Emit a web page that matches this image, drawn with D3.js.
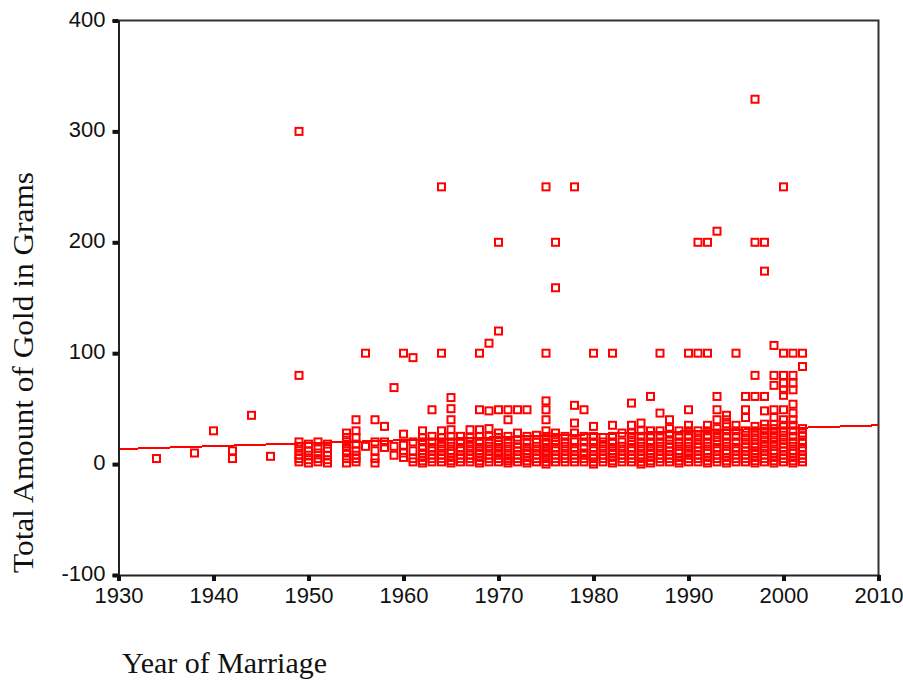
<!DOCTYPE html>
<html>
<head>
<meta charset="utf-8">
<script src="https://cdn.jsdelivr.net/npm/d3@7"></script>
<style>
  html, body { margin: 0; padding: 0; background: #fff; }
  svg { display: block; }
  .tick text { font-family: "Liberation Sans", Arial, sans-serif; font-size: 22px; fill: #111; }
  .title { font-family: "Liberation Serif", "Times New Roman", serif; font-size: 29px; fill: #111; }
</style>
</head>
<body>
<svg id="chart" width="903" height="685"></svg>
<script>
// Gold received at marriage, by year of marriage: [year, [grams for each respondent]]
const gold1930s = [[1934, [5]], [1938, [10]]];
const gold1940s = [
  [1940, [30]], [1942, [12, 5]], [1944, [44]], [1946, [7]],
  [1949, [300, 80, 20, 16, 12, 8, 5, 2]]
];
const gold1950s = [
  [1950, [18, 12, 8, 4, 1]], [1951, [20, 14, 10, 5, 2]], [1952, [18, 14, 8, 4, 1]],
  [1954, [28, 24, 20, 15, 12, 10, 5, 1]], [1955, [40, 30, 24, 18, 12, 8, 5, 2]],
  [1956, [100, 16]], [1957, [40, 20, 12, 5, 1]], [1958, [34, 20, 15]], [1959, [69, 16, 8]]
];
const gold1960s = [
  [1960, [100, 27, 17, 10, 6]], [1961, [96, 20, 12, 5, 2]],
  [1962, [30, 24, 20, 15, 10, 6, 3, 1]], [1963, [49, 25, 20, 15, 12, 8, 5, 2]],
  [1964, [250, 100, 30, 24, 20, 16, 12, 8, 5, 2]],
  [1965, [60, 50, 40, 31, 25, 20, 16, 12, 10, 6, 3, 1]],
  [1966, [25, 20, 15, 12, 8, 5, 2]], [1967, [31, 24, 20, 16, 12, 8, 5, 2]],
  [1968, [100, 49, 31, 25, 20, 15, 12, 10, 6, 3, 1]],
  [1969, [109, 48, 32, 25, 20, 16, 12, 8, 5, 2]]
];
const gold1970s = [
  [1970, [200, 120, 49, 28, 24, 20, 15, 12, 10, 8, 5, 2]],
  [1971, [49, 40, 25, 20, 16, 12, 8, 5, 3, 1]],
  [1972, [49, 28, 22, 18, 15, 12, 8, 5, 2]],
  [1973, [49, 25, 20, 15, 12, 10, 6, 3, 1]],
  [1974, [26, 20, 16, 12, 8, 5, 2]],
  [1975, [250, 100, 57, 49, 40, 30, 25, 20, 18, 15, 12, 10, 8, 5, 2, 0]],
  [1976, [200, 159, 28, 24, 20, 15, 12, 8, 5, 2]],
  [1977, [25, 20, 16, 12, 8, 5, 2]],
  [1978, [250, 53, 37, 28, 20, 15, 12, 8, 5, 2]],
  [1979, [49, 25, 20, 15, 10, 8, 5, 2]]
];
const gold1980s = [
  [1980, [100, 34, 25, 20, 15, 12, 8, 5, 2, 0]],
  [1981, [24, 20, 16, 12, 8, 5, 2]],
  [1982, [100, 35, 25, 20, 15, 12, 10, 6, 3, 1]],
  [1983, [28, 20, 16, 12, 8, 5, 2]],
  [1984, [55, 35, 28, 24, 20, 15, 12, 8, 5, 2]],
  [1985, [37, 30, 25, 20, 16, 12, 8, 5, 2, 0]],
  [1986, [61, 30, 25, 20, 15, 12, 10, 6, 3, 1]],
  [1987, [100, 46, 30, 25, 20, 16, 12, 8, 5, 2]],
  [1988, [40, 32, 27, 22, 18, 15, 12, 8, 5, 2]],
  [1989, [30, 25, 20, 16, 12, 10, 6, 3, 1]]
];
const gold1990s = [
  [1990, [100, 49, 35, 30, 25, 20, 16, 12, 10, 8, 5, 2]],
  [1991, [200, 100, 30, 26, 22, 18, 15, 12, 8, 5, 2]],
  [1992, [200, 100, 35, 30, 25, 20, 16, 12, 10, 6, 3, 1]],
  [1993, [210, 61, 49, 40, 32, 28, 24, 20, 15, 12, 8, 5, 2]],
  [1994, [44, 40, 36, 30, 25, 20, 16, 12, 10, 6, 3, 1]],
  [1995, [100, 35, 30, 25, 20, 15, 12, 8, 5, 2]],
  [1996, [61, 49, 42, 30, 26, 22, 18, 15, 12, 8, 5, 2]],
  [1997, [329, 200, 80, 61, 34, 30, 26, 22, 18, 15, 12, 10, 6, 3, 1]],
  [1998, [200, 174, 61, 48, 36, 32, 28, 24, 20, 16, 12, 8, 5, 2]],
  [1999, [107, 80, 71, 49, 42, 36, 32, 28, 24, 20, 16, 12, 10, 6, 3, 1]]
];
const gold2000s = [
  [2000, [250, 100, 80, 73, 67, 62, 49, 40, 35, 30, 26, 22, 18, 15, 12, 8, 5, 2]],
  [2001, [100, 80, 73, 67, 54, 46, 40, 35, 30, 25, 20, 16, 12, 10, 6, 3, 1]],
  [2002, [100, 88, 32, 28, 25, 20, 15, 12, 8, 5, 2]]
];

// Fitted linear trend (grams at the ends of the year range)
const trendYears = [1930, 2010];
const trendGrams = [13.5, 35];

const xTicks = [1930, 1940, 1950, 1960, 1970, 1980, 1990, 2000, 2010];
const yTicks = [-100, 0, 100, 200, 300, 400];

const points = [];
[gold1930s, gold1940s, gold1950s, gold1960s, gold1970s, gold1980s, gold1990s, gold2000s]
  .forEach(decade => decade.forEach(([year, grams]) =>
    grams.forEach(g => points.push({ year, grams: g }))));

const svg = d3.select("#chart");
const x = d3.scaleLinear().domain([1930, 2010]).range([118.5, 878.5]);
const y = d3.scaleLinear().domain([-100, 400]).range([575, 20.5]);

// frame: top and right edges
svg.append("path")
  .attr("d", `M${x(1930)},${y(400)}H${x(2010)}V${y(-100)}`)
  .attr("fill", "none").attr("stroke", "#333").attr("stroke-width", 2);

// regression line
svg.append("line")
  .attr("x1", x(trendYears[0])).attr("y1", y(trendGrams[0]))
  .attr("x2", x(trendYears[1])).attr("y2", y(trendGrams[1]))
  .attr("stroke", "#ff0000").attr("stroke-width", 2)
  .attr("shape-rendering", "crispEdges");

// open square markers
const s = 7;
svg.append("g").selectAll("rect").data(points).join("rect")
  .attr("x", d => x(d.year) - s / 2)
  .attr("y", d => y(d.grams) - s / 2)
  .attr("width", s).attr("height", s)
  .attr("fill", "none").attr("stroke", "#ff0000").attr("stroke-width", 2);

// axes (plain hyphen for negative labels)
const plain = d => String(d);
const yAxis = svg.append("g").attr("transform", `translate(${x(1930)},0)`)
  .call(d3.axisLeft(y).tickValues(yTicks).tickFormat(plain).tickSize(6).tickPadding(7));
const xAxis = svg.append("g").attr("transform", `translate(0,${y(-100)})`)
  .call(d3.axisBottom(x).tickValues(xTicks).tickFormat(plain).tickSize(6).tickPadding(6));

[yAxis, xAxis].forEach(g => {
  g.select(".domain").attr("stroke", "#222").attr("stroke-width", 2);
  g.selectAll(".tick line").attr("stroke", "#111").attr("stroke-width", 4);
});
yAxis.selectAll(".tick text").attr("dy", "0.25em");

// axis titles
svg.append("text").attr("class", "title")
  .attr("x", 122).attr("y", 673)
  .attr("textLength", 205).attr("lengthAdjust", "spacingAndGlyphs")
  .text("Year of Marriage");

svg.append("text").attr("class", "title")
  .attr("transform", "translate(33,573) rotate(-90)")
  .attr("textLength", 401).attr("lengthAdjust", "spacingAndGlyphs")
  .text("Total Amount of Gold in Grams");
</script>
</body>
</html>
